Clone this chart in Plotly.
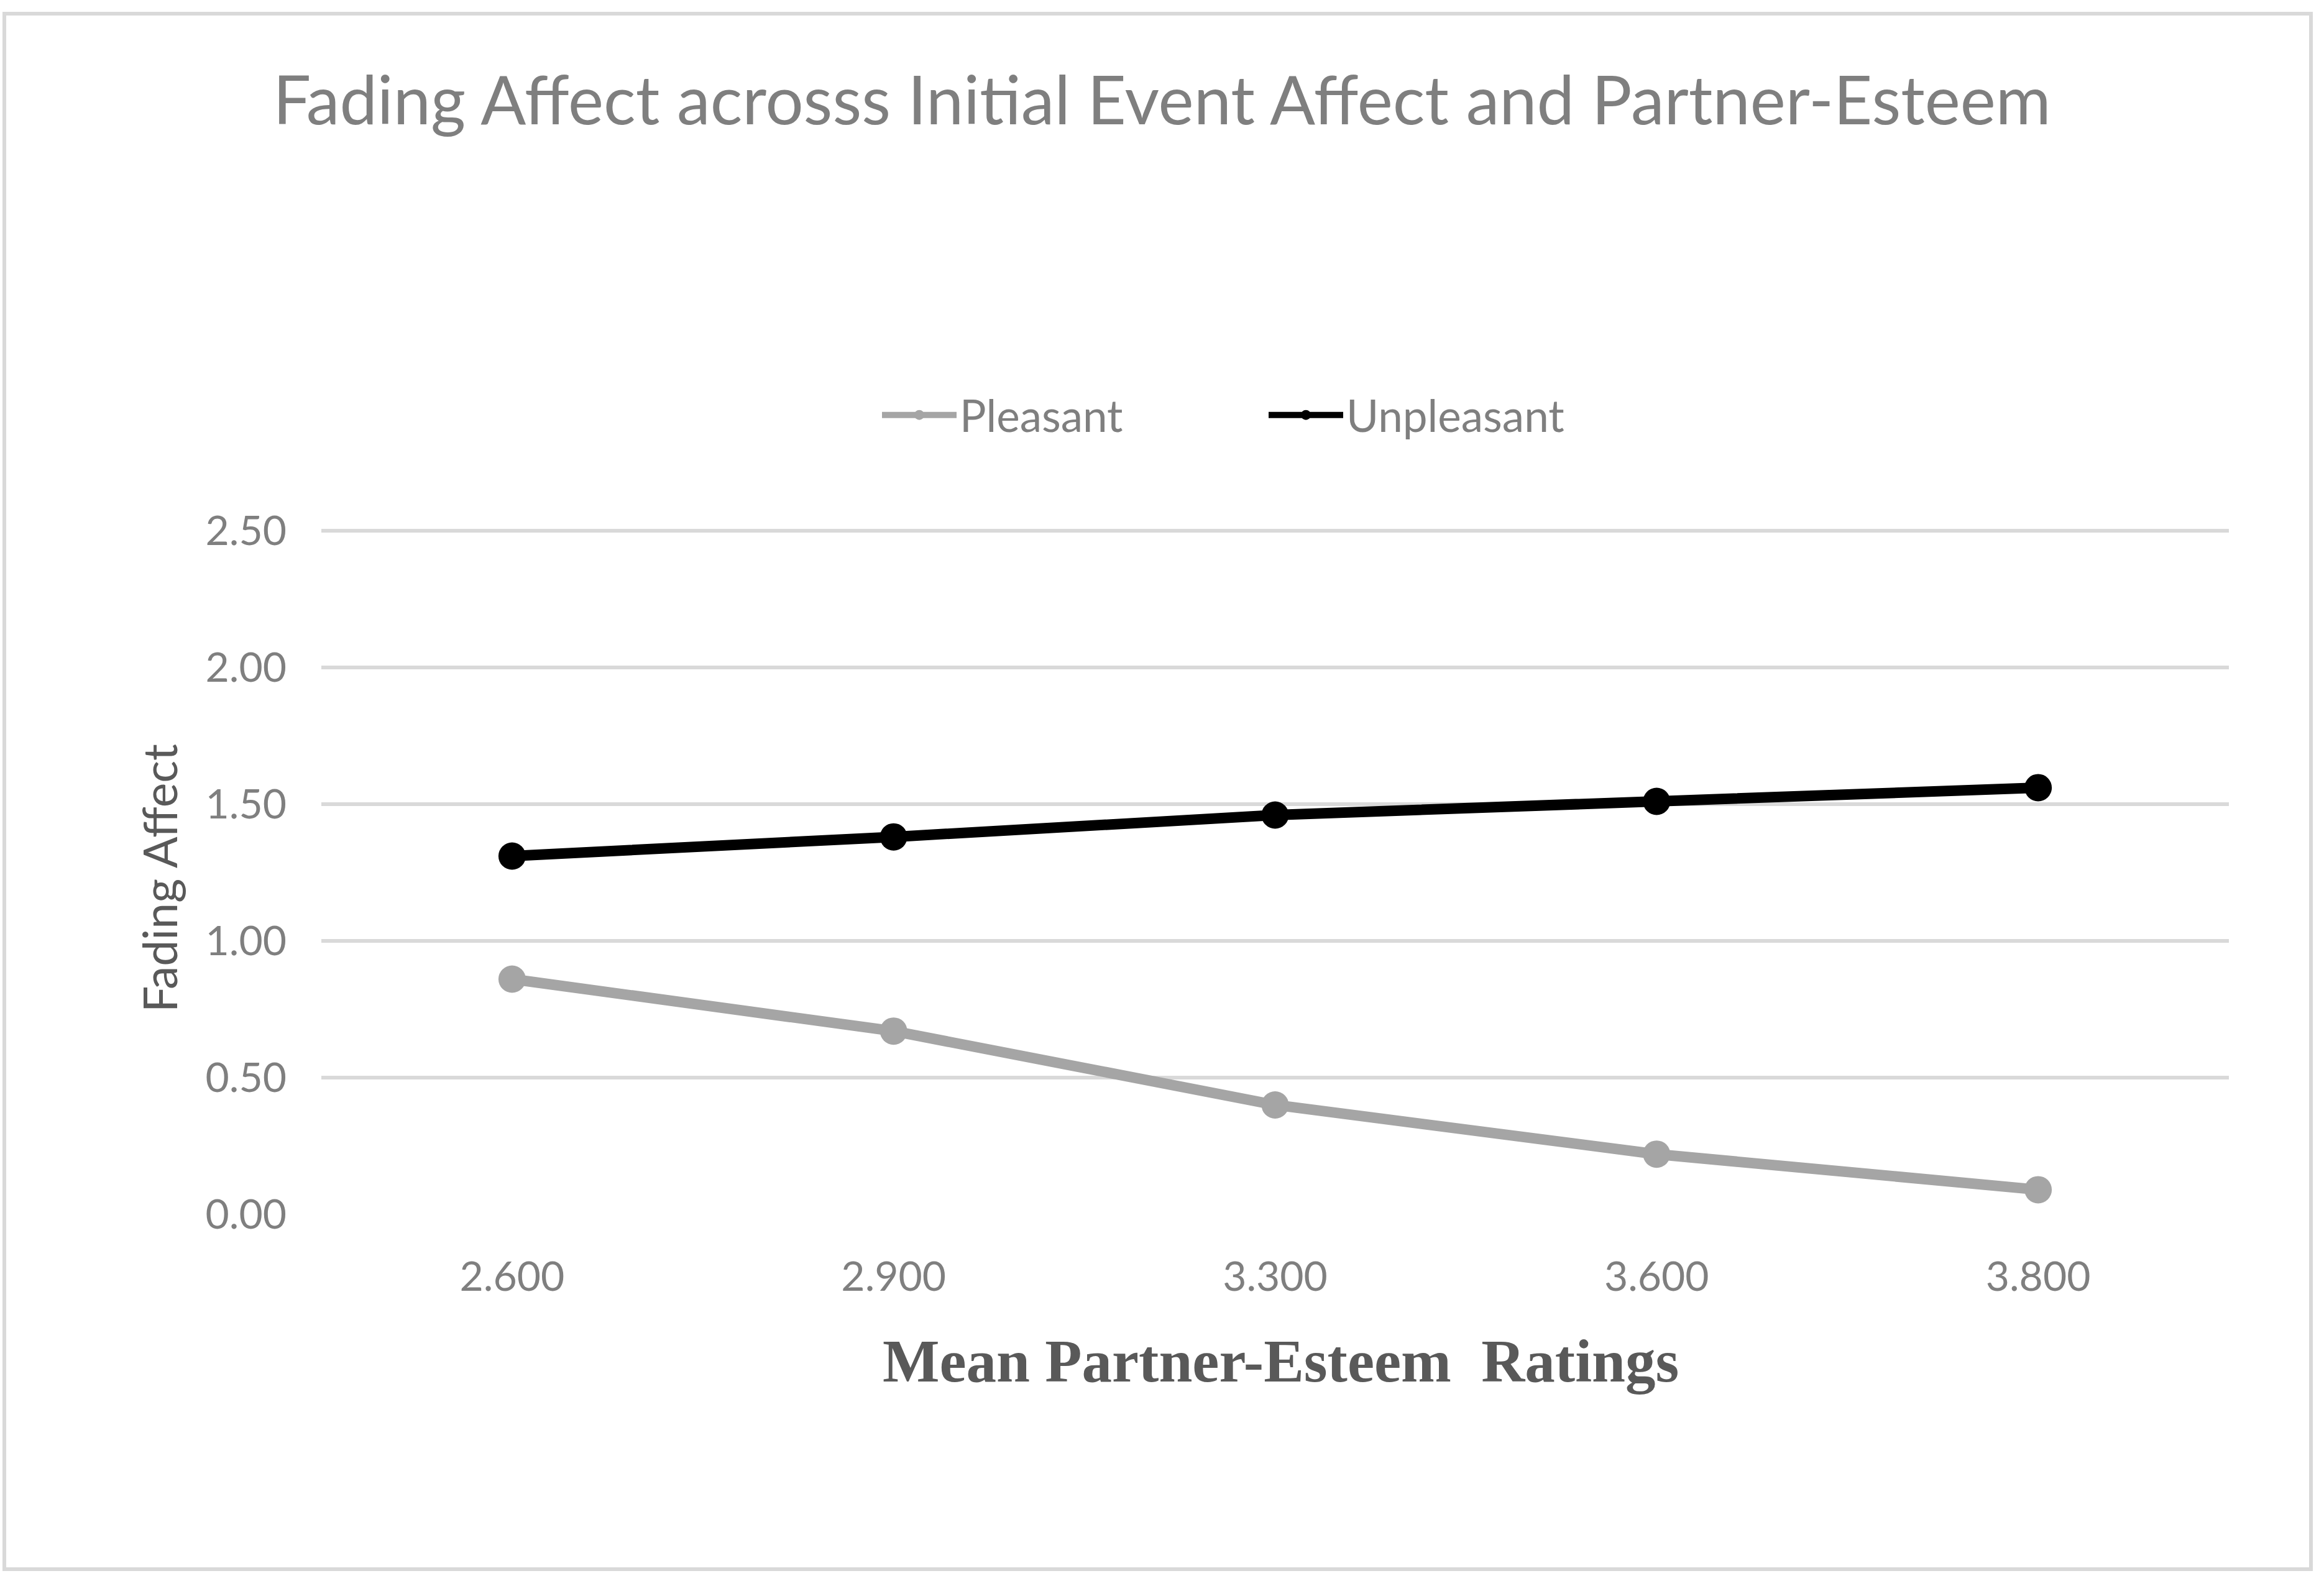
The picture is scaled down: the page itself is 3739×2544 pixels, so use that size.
import plotly.graph_objects as go

categories = ["2.600", "2.900", "3.300", "3.600", "3.800"]
pleasant = [0.86, 0.67, 0.40, 0.22, 0.09]
unpleasant = [1.31, 1.38, 1.46, 1.51, 1.56]
series_names = ["Pleasant", "Unpleasant"]
y_ticks = [0.0, 0.5, 1.0, 1.5, 2.0, 2.5]

W, H = 3739, 2544
L, R, T, B = 517, 153, 852, 590
pw, ph = W - L - R, H - T - B
YMAX = 2.504

def px_x(p):
    return (p - L) / pw

def px_y(p):
    return (H - B - p) / ph

FONT = "Lato"
GRAY = "#7f7f7f"
DARK = "#595959"

fig = go.Figure()
fig.add_trace(go.Scatter(x=categories, y=pleasant, name=series_names[0], mode="lines+markers",
                         line=dict(color="#a5a5a5", width=17),
                         marker=dict(color="#a5a5a5", size=44)))
fig.add_trace(go.Scatter(x=categories, y=unpleasant, name=series_names[1], mode="lines+markers",
                         line=dict(color="#000000", width=17),
                         marker=dict(color="#000000", size=44)))

fig.update_layout(
    width=W, height=H,
    margin=dict(l=L, r=R, t=T, b=B, pad=0),
    paper_bgcolor="white", plot_bgcolor="white",
    font=dict(family=FONT, color=GRAY, size=66),
    title=dict(text="Fading Affect acrosss Initial Event Affect and Partner-Esteem",
               x=0.5, xref="container", xanchor="center",
               y=1 - 162 / H, yref="container", yanchor="middle",
               font=dict(family=FONT, size=108, color=GRAY)),
    showlegend=True,
    legend=dict(orientation="h", x=px_x(1414), xanchor="left", y=px_y(668), yanchor="middle",
                font=dict(family=FONT, size=71, color=GRAY), itemwidth=120,
                entrywidth=487, entrywidthmode="pixels"),
    xaxis=dict(type="category", range=[-0.5, 4.5], showgrid=False, zeroline=False,
               showline=False, ticks="", tickfont=dict(family=FONT, size=66, color=GRAY),
               ticklabelstandoff=56),
    yaxis=dict(range=[0, YMAX], tickvals=y_ticks, tickformat=".2f", showgrid=True,
               gridcolor="#d9d9d9", gridwidth=6, zeroline=False, showline=False, ticks="",
               tickfont=dict(family=FONT, size=66, color=GRAY), ticklabelstandoff=55),
    annotations=[
        dict(text="Fading Affect", xref="paper", yref="paper", x=px_x(256), y=px_y(1413),
             xanchor="center", yanchor="middle", textangle=-90, showarrow=False,
             font=dict(family=FONT, size=75, color=DARK)),
        dict(text="Mean Partner-Esteem \u00a0Ratings", xref="paper", yref="paper",
             x=px_x(2060), y=px_y(2190), xanchor="center", yanchor="middle", showarrow=False,
             font=dict(family="Liberation Serif", size=97, color=DARK, weight="bold")),
    ],
    shapes=[dict(type="rect", xref="paper", yref="paper", x0=px_x(7), x1=px_x(3718),
                 y0=px_y(2525), y1=px_y(22), line=dict(color="#d9d9d9", width=6),
                 layer="below")],
)

fig.write_html("out.html", config={"displayModeBar": False},
               post_script="document.body.style.margin='0';")
